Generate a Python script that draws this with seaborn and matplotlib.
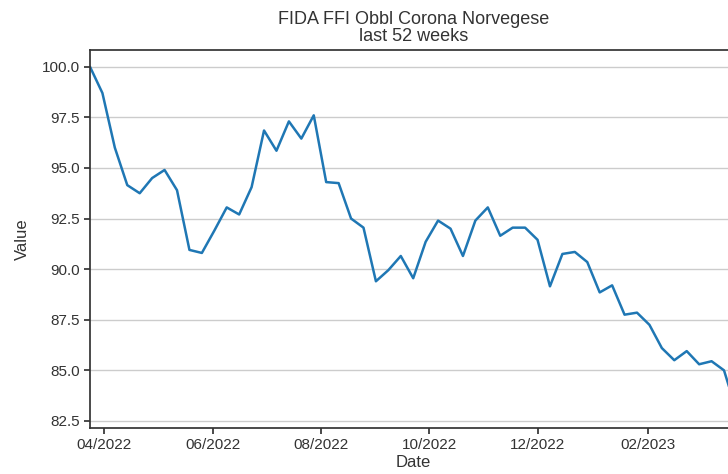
import pandas as pd
import seaborn as sns
import matplotlib.pyplot as plt
import matplotlib.dates as mdates

# weekly closes, last 52 weeks
start_date = "2022-03-24"
n_weeks = 53
values = [100.0, 98.7, 96.0, 94.15, 93.75, 94.5, 94.9, 93.9, 90.95, 90.8,
          91.9, 93.05, 92.7, 94.05, 96.85, 95.85, 97.3, 96.45, 97.6, 94.3,
          94.25, 92.5, 92.05, 89.4, 89.95, 90.65, 89.55, 91.35, 92.4, 92.0,
          90.65, 92.4, 93.05, 91.65, 92.05, 92.05, 91.45, 89.15, 90.75, 90.85,
          90.35, 88.85, 89.2, 87.75, 87.85, 87.25, 86.1, 85.5, 85.95, 85.3,
          85.45, 85.0, 83.0]
title = "FIDA FFI Obbl Corona Norvegese\nlast 52 weeks"

dates = pd.date_range(start_date, periods=n_weeks, freq="7D")
df = pd.DataFrame({"Date": dates, "Value": values})

sns.set_theme(context="notebook", style="ticks",
              rc={"axes.edgecolor": ".2", "text.color": ".2",
                  "xtick.color": ".2", "ytick.color": ".2", "axes.labelcolor": ".2"})
plt.rcParams["font.family"] = ["Liberation Sans", "DejaVu Sans"]

fig = plt.figure(figsize=(7.28, 4.74), dpi=100)
ax = fig.add_axes([0.1236, 0.097, 0.888, 0.7985])

sns.lineplot(data=df, x="Date", y="Value", color="#1f77b4", linewidth=1.8, ax=ax)

ax.set_xlim(dates[0], dates[-1])
ax.yaxis.grid(True, color=".8", linewidth=1)
ax.set_axisbelow(True)
ax.xaxis.set_major_locator(mdates.MonthLocator(bymonth=[2, 4, 6, 8, 10, 12]))
ax.xaxis.set_major_formatter(mdates.DateFormatter("%m/%Y"))
ax.tick_params(length=4)
ax.set_xlabel("Date", fontsize=12, labelpad=2)
ax.set_ylabel("Value", fontsize=12, labelpad=8)
ax.set_title(title, fontsize=13, linespacing=1.0)

fig.savefig("out.png", dpi=100)
